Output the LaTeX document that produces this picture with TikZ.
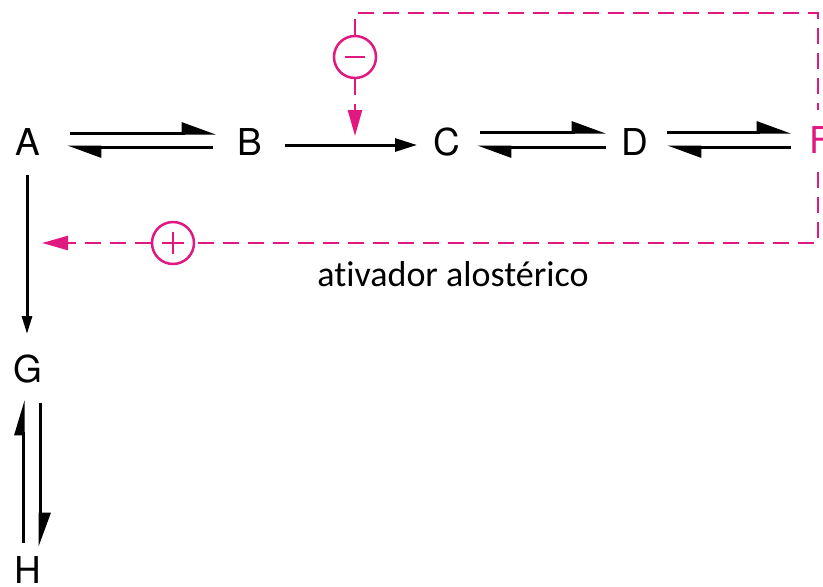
\documentclass[tikz,border=0pt]{standalone}
\usepackage{fontspec}
\setmainfont{TeX Gyre Heros}
\newfontfamily\labfont[Ligatures=NoCommon]{Carlito}
\usetikzlibrary{arrows.meta}
\definecolor{mag}{RGB}{224,24,128}
\tikzset{
  letter/.style={anchor=base, inner sep=0pt, font=\fontsize{37}{40}\selectfont},
  blk/.style={line width=3pt, black},
  harp/.style={blk, -{Triangle[harpoon, length=30pt, width=21pt]}},
  fullarrow/.style={blk, -{Triangle[length=22pt, width=13pt]}},
  downarrow/.style={blk, -{Triangle[length=18pt, width=10pt]}},
  magline/.style={line width=2.5pt, mag, dash pattern=on 16pt off 9pt},
  magarrow/.style={magline, -{Triangle[length=26pt, width=14pt]}},
  sign/.style={circle, draw=mag, line width=2.5pt, fill=white, minimum size=42pt, inner sep=0pt}
}
\begin{document}
\begin{tikzpicture}[x=1pt, y=-1pt]
\useasboundingbox (0,0) rectangle (823,587);
% letters
\node[letter] (A) at (28,155) {A};
\node[letter] (B) at (250,155) {B};
\node[letter] (C) at (447,155) {C};
\node[letter] (D) at (635,155) {D};
\node[letter, text=mag] (F) at (821,153) {F};
\node[letter] (G) at (28,382) {G};
\node[letter] (H) at (28,583) {H};
% label
\node[anchor=base, inner sep=0pt, font=\labfont\fontsize{36}{40}\selectfont] (lab) at (453,286) {ativador alostérico};
% reversible A <-> B
\coordinate (ab1) at (70,133); \coordinate (ab2) at (216,133);
\coordinate (ab3) at (213,147); \coordinate (ab4) at (67,147);
\draw[harp] (ab1) -- (ab2);
\draw[harp] (ab3) -- (ab4);
% B -> C
\coordinate (bc1) at (285,145); \coordinate (bc2) at (417,145);
\draw[fullarrow] (bc1) -- (bc2);
% C <-> D
\coordinate (cd1) at (480,132); \coordinate (cd2) at (606,132);
\coordinate (cd3) at (606,147); \coordinate (cd4) at (477,147);
\draw[harp] (cd1) -- (cd2);
\draw[harp] (cd3) -- (cd4);
% D <-> F
\coordinate (df1) at (667,132); \coordinate (df2) at (791,132);
\coordinate (df3) at (791,147); \coordinate (df4) at (667,147);
\draw[harp] (df1) -- (df2);
\draw[harp] (df3) -- (df4);
% A -> G
\coordinate (ag1) at (27,175); \coordinate (ag2) at (27,334);
\draw[downarrow] (ag1) -- (ag2);
% G <-> H
\coordinate (gh1) at (23,543); \coordinate (gh2) at (23,400);
\coordinate (gh3) at (40,403); \coordinate (gh4) at (40,547);
\draw[harp, -{Triangle[harpoon, length=30pt, width=17pt]}] (gh1) -- (gh2);
\draw[harp] (gh3) -- (gh4);
% feedback signs
\node[sign] (minus) at (355,57) {};
\draw[mag, line width=2.5pt] ([xshift=-10pt]minus.center) -- ([xshift=10pt]minus.center);
\node[sign] (plus) at (173,243) {};
\draw[mag, line width=2.5pt] ([xshift=-11pt]plus.center) -- ([xshift=11pt]plus.center)
  ([yshift=-11pt]plus.center) -- ([yshift=11pt]plus.center);
% dashed feedback paths
\coordinate (tr) at (818,13);
\coordinate (Ftop) at (818,110);
\coordinate (Fbot) at (818,172);
\coordinate (br) at (818,243);
\coordinate (inh) at (355,136);
\coordinate (act) at (42,243);
\draw[magline] (minus.north) |- (tr) -- (Ftop);
\draw[magline] (Fbot) -- (br) -- (plus.east);
\draw[magarrow] (minus.south) -- (inh);
\draw[magarrow] (plus.west) -- (act);
\end{tikzpicture}
\end{document}
